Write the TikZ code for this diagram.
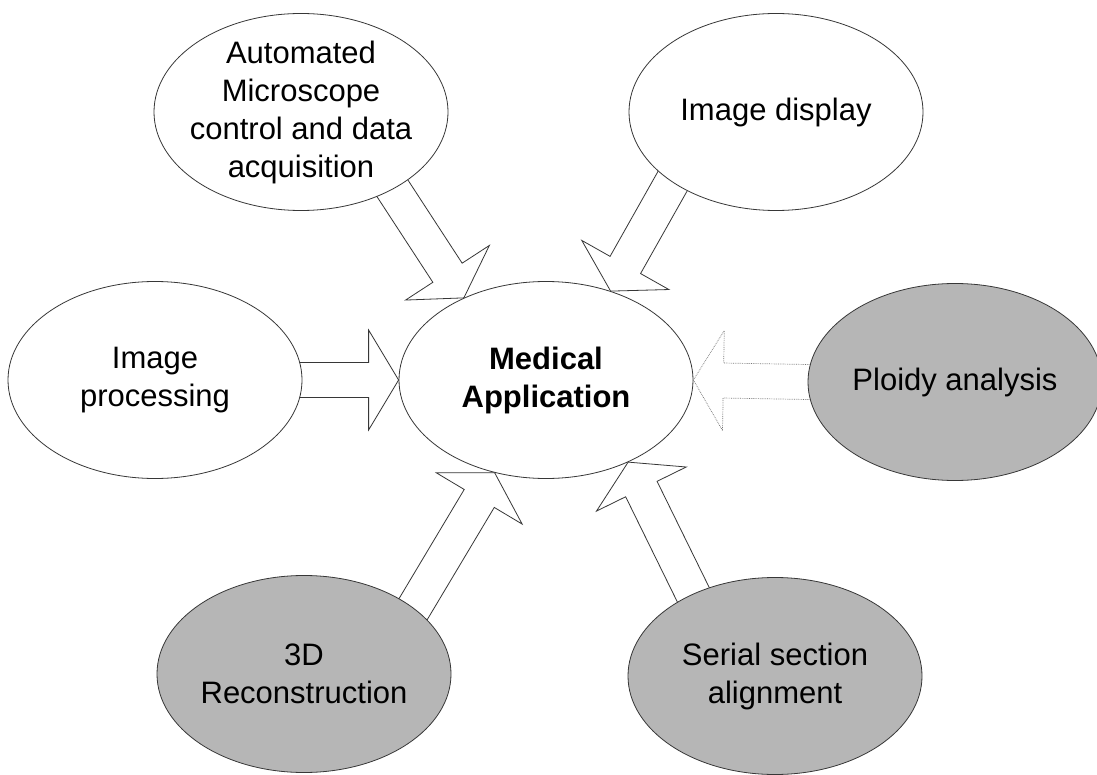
\documentclass[tikz,border=0pt]{standalone}
\usepackage{fontspec}
\setmainfont{Liberation Sans}
\usetikzlibrary{shapes.geometric,calc,backgrounds}

\definecolor{inkline}{RGB}{55,55,55}
\definecolor{shade}{RGB}{182,182,182}
\definecolor{faintline}{RGB}{120,120,120}

\tikzset{
  bubble/.style={ellipse, draw=inkline, line width=0.8pt, fill=white,
                 minimum width=294pt, minimum height=197pt, inner sep=0pt},
  shaded/.style={bubble, fill=shade},
  caption/.style={align=center, font=\fontsize{31}{38}\selectfont, inner sep=0pt},
  barrow/.style={draw=inkline, line width=0.8pt, fill=white, line join=miter},
}

% Hollow block arrow from #2 (start) to #3 (tip):
% shaft 35pt wide, head 100pt wide and 30pt long.
\newcommand\blockarrow[3][]{%
  \coordinate (ba-a) at ($(#2)!-20pt!(#3)$);
  \coordinate (ba-c) at ($(#3)!30pt!(#2)$);
  \draw[barrow,#1]
    ($(ba-a)!17.5pt!90:(#3)$) -- ($(ba-c)!17.5pt!90:(#3)$) --
    ($(ba-c)!50pt!90:(#3)$) -- (#3) --
    ($(ba-c)!50pt!-90:(#3)$) -- ($(ba-c)!17.5pt!-90:(#3)$) --
    ($(ba-a)!17.5pt!-90:(#3)$) -- cycle;
}

\begin{document}
\begin{tikzpicture}[x=1pt,y=-1pt]
\useasboundingbox (0,0) rectangle (1097,775);
\clip (0,0) rectangle (1097,775);

% the bubbles
\node[bubble] (c)  at (546,380) {};
\node[bubble] (tl) at (301,112) {};
\node[bubble] (tr) at (776,112) {};
\node[bubble] (l)  at (155,380) {};
\node[shaded] (r)  at (955,382) {};
\node[shaded] (bl) at (304,674) {};
\node[shaded] (br) at (775,676) {};

% their captions
\node[caption, font=\fontsize{31}{38}\selectfont\bfseries] (c-t) at (c) {Medical\\Application};
\node[caption] (tl-t) at (tl) {Automated\\Microscope\\control and data\\acquisition};
\node[caption] (tr-t) at (tr) {Image display};
\node[caption] (l-t)  at (l)  {Image\\processing};
\node[caption] (r-t)  at (r)  {Ploidy analysis};
\node[caption] (bl-t) at (bl) {3D\\Reconstruction};
\node[caption] (br-t) at (br) {Serial section\\alignment};

% block arrows into the central bubble, kept behind the bubbles
\begin{pgfonlayer}{background}
  \fill[white] (0,0) rectangle (1097,775);
  \blockarrow{tl.-40.5}{c.135}
  \blockarrow{tr.214.8}{c.54.5}
  \blockarrow{l.0}{c.180}
  \blockarrow[draw=faintline, densely dotted, line width=0.7pt]{r.180}{c.0}
  \blockarrow{bl.31.5}{c.241.5}
  \blockarrow{br.135.4}{c.-45.7}
\end{pgfonlayer}
\end{tikzpicture}
\end{document}
